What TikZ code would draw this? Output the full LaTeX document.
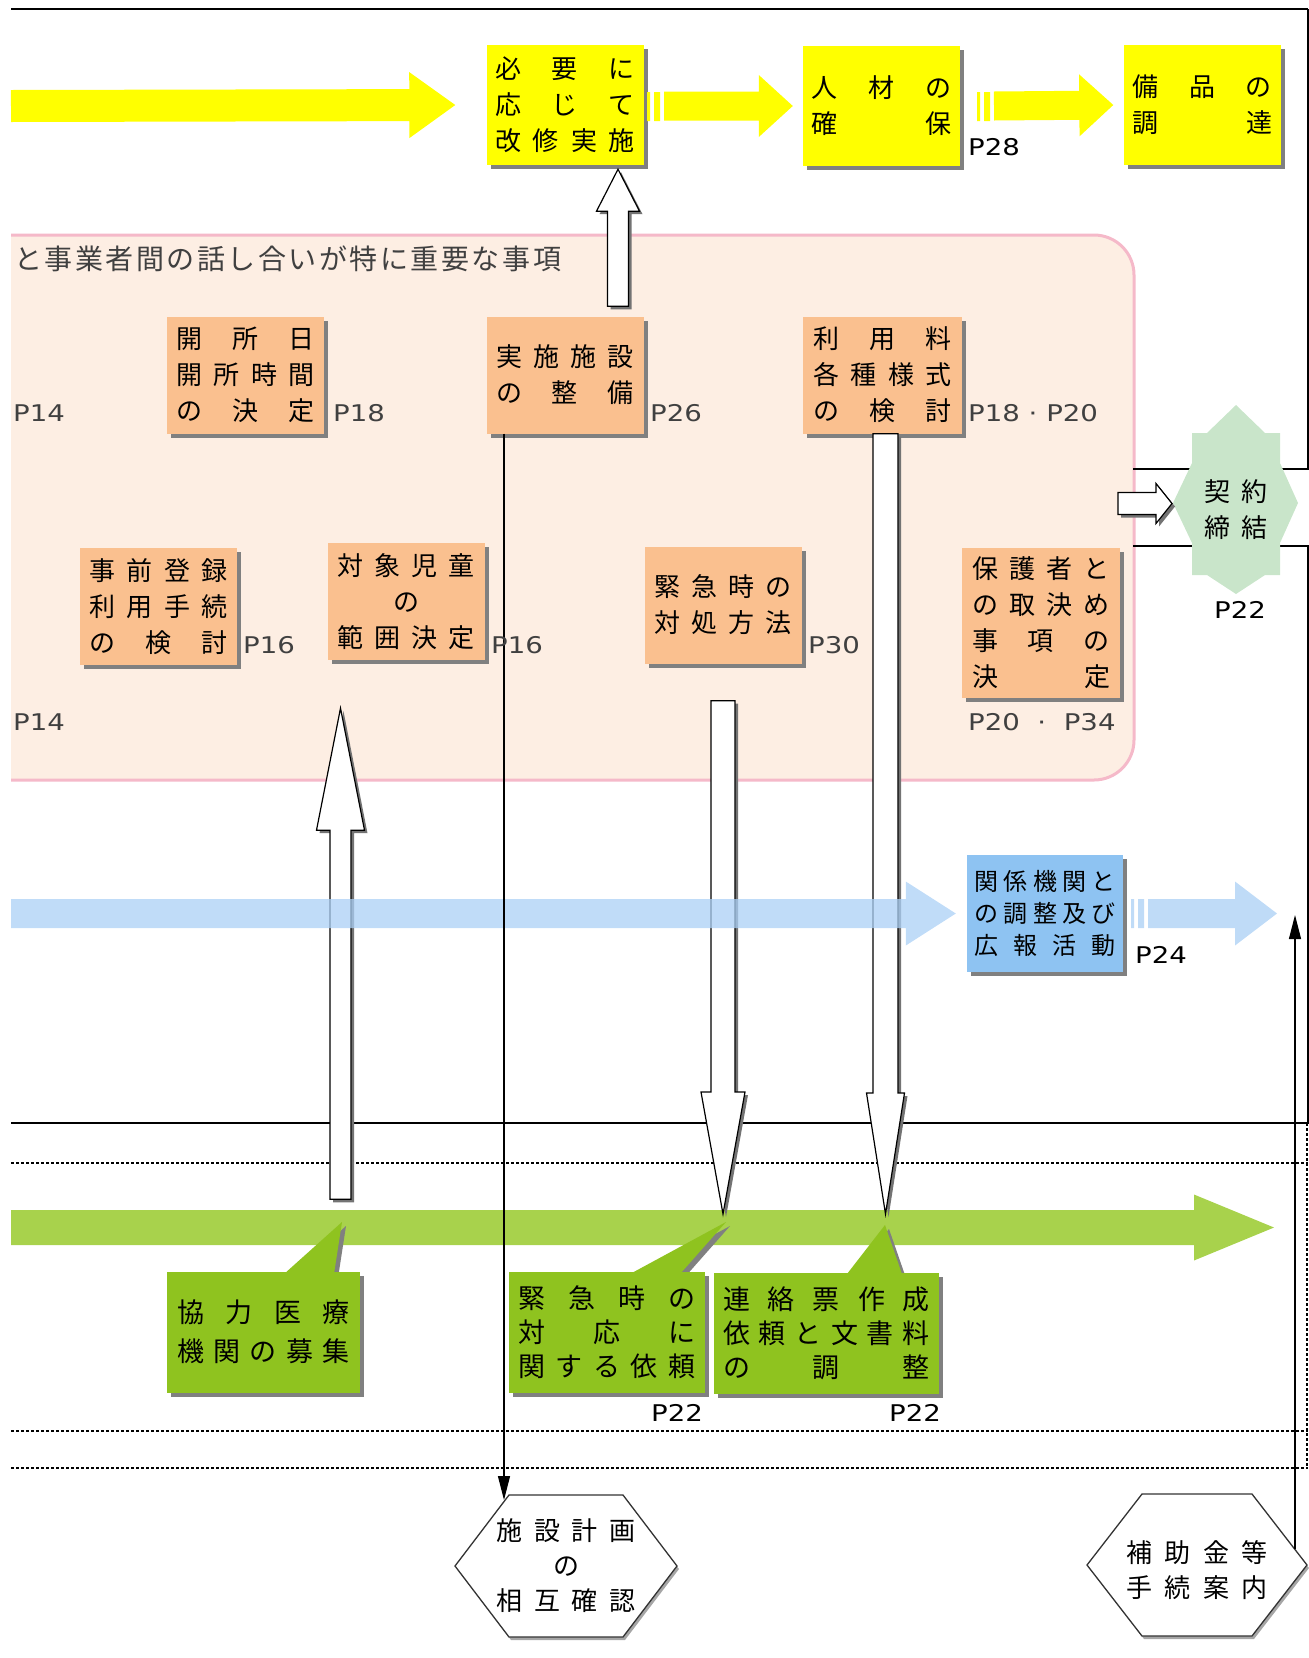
\documentclass[tikz,border=0pt]{standalone}
\usepackage{fontspec}
\newfontfamily\jfont{Noto Sans CJK JP}
\newfontfamily\jtitlefont[LetterSpace=9]{Noto Sans CJK JP}
\newfontfamily\pfont[FakeStretch=1.2]{DejaVu Sans}
\usetikzlibrary{calc,shadows,arrows.meta}

\definecolor{yarrowc}{HTML}{FFFF00}
\definecolor{oboxc}{HTML}{FAC08F}
\definecolor{pinkfill}{HTML}{FDEEE3}
\definecolor{pinkline}{HTML}{F5B9C9}
\definecolor{bbarc}{HTML}{BFDBF7}
\definecolor{bbarx}{HTML}{ABD0F6}
\definecolor{bboxc}{HTML}{8EC3F2}
\definecolor{gbarc}{HTML}{A8D24C}
\definecolor{gboxc}{HTML}{8FC31F}
\definecolor{starc}{HTML}{C9E5CA}

\newlength\rowwd
\newcommand\jr[1]{\makebox[\rowwd][s]{#1}}

% block arrow: [style]{start}{tip}{shaft half width}{head half width}{head length}
\newcommand\blockarrow[6][]{%
  \coordinate (ba-h) at ($(#3)!#6!(#2)$);
  \path[#1] ($(#2)!#4!90:(#3)$) -- ($(ba-h)!#4!90:(#3)$) -- ($(ba-h)!#5!90:(#3)$)
    -- (#3) -- ($(ba-h)!#5!-90:(#3)$) -- ($(ba-h)!#4!-90:(#3)$)
    -- ($(#2)!#4!-90:(#3)$) -- cycle;}

\tikzset{
  shbox/.style={drop shadow={shadow xshift=4pt,shadow yshift=-4pt,fill=black!50,opacity=1}},
  rowwidth/.style={execute at begin node={\setlength{\rowwd}{#1}}},
  boxbase/.style={inner sep=0pt,align=center,shbox,font=\jfont\fontsize{26}{36}\selectfont},
  ybox/.style={boxbase,fill=yarrowc,minimum width=157pt,minimum height=120pt,rowwidth=140pt},
  obox/.style={boxbase,fill=oboxc,minimum width=157pt,minimum height=117pt,rowwidth=138pt},
  bbox/.style={boxbase,fill=bboxc,minimum width=156pt,minimum height=117pt,rowwidth=142pt,
    font=\jfont\fontsize{24}{32}\selectfont},
  gbox/.style={boxbase,fill=gboxc,minimum height=121pt,font=\jfont\fontsize{27}{34}\selectfont},
  warrow/.style={fill=white,draw=black,line width=1.2pt},
  wshadow/.style={fill=black!55},
  plab/.style={anchor=west,inner sep=0pt,text=black!75,font=\pfont\fontsize{23}{28}\selectfont},
  plabk/.style={plab,text=black},
  frameline/.style={line width=1.5pt},
  dotline/.style={line width=1.6pt,dash pattern=on 2.5pt off 2.5pt},
  thinarrow/.style={line width=1.2pt,-{Triangle[length=24pt,width=12pt]}},
  hexline/.style={fill=white,draw=black!80,line width=1.3pt,
    drop shadow={shadow xshift=2pt,shadow yshift=-3pt,fill=black!35,opacity=1}},
  hextext/.style={inner sep=0pt,align=center,font=\jfont\fontsize{26}{35}\selectfont}
}

\begin{document}
\begin{tikzpicture}[x=1pt,y=-1pt]
\useasboundingbox (0,0) rectangle (1309,1658);

% pink zone
\begin{scope}
\clip (11,0) rectangle (1309,1658);
\draw[fill=pinkfill,draw=pinkline,line width=3pt,rounded corners=40pt] (-60,235) rectangle (1134,780);
\end{scope}
\node[anchor=west,inner sep=0pt,text=black!75,font=\jtitlefont\fontsize{28}{32}\selectfont] (zonetitle) at (14,259) {と事業者間の話し合いが特に重要な事項};

% frame lines
\draw[line width=2.5pt] (11,9) -- (1308,9);
\draw[frameline] (1308,9) -- (1308,469) -- (1133,469);
\draw[frameline] (1133,546) -- (1308,546) -- (1308,1123) -- (11,1123);
\draw[dotline] (11,1163) -- (1308,1163);
\draw[dotline] (11,1431) -- (1308,1431);
\draw[dotline] (11,1468) -- (1308,1468);
\draw[dotline] (1307,1123) -- (1307,1468);

% green flow
\coordinate (gb1) at (11,1227.5);
\coordinate (gb2) at (1274,1227.5);
\blockarrow[fill=gbarc]{gb1}{gb2}{17.5pt}{33pt}{80pt}
\fill[gboxc,shbox] (284,1274) -- (342,1222) -- (334,1274) -- cycle;
\fill[gboxc,shbox] (630,1274) -- (726,1222) -- (680,1274) -- cycle;
\fill[gboxc,shbox] (847,1274) -- (885,1225) -- (902,1274) -- cycle;
\node[gbox,minimum width=193pt,rowwidth=173pt,font=\jfont\fontsize{27}{39}\selectfont] (kyoryoku) at (263.5,1332)
  {\jr{協\hfill 力\hfill 医\hfill 療}\\\jr{機\hfill 関\hfill の\hfill 募\hfill 集}};
\node[gbox,minimum width=196pt,rowwidth=177pt] (irai) at (607,1332.5)
  {\jr{緊\hfill 急\hfill 時\hfill の}\\\jr{対\hfill 応\hfill に}\\\jr{関\hfill す\hfill る\hfill 依\hfill 頼}};
\node[gbox,minimum width=225pt,rowwidth=207pt] (renraku) at (826.5,1333)
  {\jr{連\hfill 絡\hfill 票\hfill 作\hfill 成}\\\jr{依\hfill 頼\hfill と\hfill 文\hfill 書\hfill 料}\\\jr{の\hfill 調\hfill 整}};

% yellow flow
\node[ybox] (kaishu) at (565,105)
  {\jr{必\hfill 要\hfill に}\\\jr{応\hfill じ\hfill て}\\\jr{改\hfill 修\hfill 実\hfill 施}};
\node[ybox] (jinzai) at (881.5,106) {\jr{人\hfill 材\hfill の}\\\jr{確\hfill 保}};
\node[ybox] (bihin) at (1202,105) {\jr{備\hfill 品\hfill の}\\\jr{調\hfill 達}};
\coordinate (ya1) at (11,106);
\coordinate (ya2) at ([xshift=-31pt]kaishu.west);
\blockarrow[fill=yarrowc]{ya1}{ya2}{16pt}{33pt}{46pt}
\fill[yarrowc] (647,92) rectangle (650,121) (654,92) rectangle (660,121);
\coordinate (yb1) at (664,106);
\coordinate (yb2) at ([xshift=-10pt]jinzai.west);
\blockarrow[fill=yarrowc]{yb1}{yb2}{14.5pt}{31pt}{34pt}
\fill[yarrowc] (977,92) rectangle (980,121) (984,92) rectangle (990,121);
\coordinate (yc1) at (994,106);
\coordinate (yc2) at ([xshift=-10pt]bihin.west);
\blockarrow[fill=yarrowc]{yc1}{yc2}{14.5pt}{31pt}{34pt}

% boxes in the zone
\node[obox] (kaisho) at (245.5,375)
  {\jr{開\hfill 所\hfill 日}\\\jr{開\hfill 所\hfill 時\hfill 間}\\\jr{の\hfill 決\hfill 定}};
\node[obox] (jisshi) at (565,375) {\jr{実\hfill 施\hfill 施\hfill 設}\\\jr{の\hfill 整\hfill 備}};
\node[obox,minimum width=159pt] (riyou) at (882.5,375)
  {\jr{利\hfill 用\hfill 料}\\\jr{各\hfill 種\hfill 様\hfill 式}\\\jr{の\hfill 検\hfill 討}};
\node[obox] (jizen) at (158.5,606.5)
  {\jr{事\hfill 前\hfill 登\hfill 録}\\\jr{利\hfill 用\hfill 手\hfill 続}\\\jr{の\hfill 検\hfill 討}};
\node[obox] (taisho) at (406,601.5)
  {\jr{対\hfill 象\hfill 児\hfill 童}\\の\\\jr{範\hfill 囲\hfill 決\hfill 定}};
\node[obox] (kinkyu) at (723,605) {\jr{緊\hfill 急\hfill 時\hfill の}\\\jr{対\hfill 処\hfill 方\hfill 法}};
\node[obox,minimum width=158pt,minimum height=150pt] (hogosha) at (1041,623)
  {\jr{保\hfill 護\hfill 者\hfill と}\\\jr{の\hfill 取\hfill 決\hfill め}\\\jr{事\hfill 項\hfill の}\\\jr{決\hfill 定}};

% contract
\coordinate (kc) at (1236,504);
\begin{scope}[shift={(kc)}]
\fill[starc] (0,-99) -- (29,-71) -- (44,-71) -- (44,-41) -- (62,-1) -- (44,39) -- (44,71) -- (29,71)
  -- (0,90) -- (-29,71) -- (-44,71) -- (-44,39) -- (-63,-1) -- (-44,-41) -- (-44,-71) -- (-29,-71) -- cycle;
\end{scope}
\node[inner sep=0pt,align=center,rowwidth=64pt,font=\jfont\fontsize{26}{36}\selectfont] (keiyaku) at ([yshift=-6pt]kc)
  {\jr{契\hfill 約}\\\jr{締\hfill 結}};

% white block arrows
\coordinate (u1s) at ([xshift=53pt,yshift=10pt]jisshi.north);
\coordinate (u1t) at ([xshift=53pt,yshift=-4pt]kaishu.south);
\coordinate (u2s) at ([xshift=77pt,yshift=72pt]kyoryoku.north);
\coordinate (u2t) at ([xshift=-65.5pt,yshift=-48pt]taisho.south);
\coordinate (d1s) at ([yshift=-37pt]kinkyu.south);
\coordinate (d1t) at (723,1214);
\coordinate (d2s) at ([xshift=3pt]riyou.south);
\coordinate (d2t) at (885.5,1214);
\coordinate (r1s) at (1118,503.5);
\coordinate (r1t) at (1172,503.5);
\begin{scope}[transform canvas={xshift=3pt,yshift=-3pt}]
\blockarrow[wshadow]{u1s}{u1t}{10.5pt}{21.5pt}{42pt}
\blockarrow[wshadow]{u2s}{u2t}{10.5pt}{24pt}{122pt}
\blockarrow[wshadow]{d1s}{d1t}{12pt}{22pt}{122pt}
\blockarrow[wshadow]{d2s}{d2t}{12.5pt}{19pt}{121pt}
\blockarrow[wshadow]{r1s}{r1t}{11pt}{20pt}{16pt}
\end{scope}
\blockarrow[warrow]{u1s}{u1t}{10.5pt}{21.5pt}{42pt}
\blockarrow[warrow]{u2s}{u2t}{10.5pt}{24pt}{122pt}
\blockarrow[warrow]{d1s}{d1t}{12pt}{22pt}{122pt}
\blockarrow[warrow]{d2s}{d2t}{12.5pt}{19pt}{121pt}
\blockarrow[warrow]{r1s}{r1t}{11pt}{20pt}{16pt}

% blue flow
\node[bbox] (kankei) at (1045,913.5)
  {\jr{関\hfill 係\hfill 機\hfill 関\hfill と}\\\jr{の\hfill 調\hfill 整\hfill 及\hfill び}\\\jr{広\hfill 報\hfill 活\hfill 動}};
\coordinate (bb1) at (11,913.5);
\coordinate (bb2) at ([xshift=-11pt]kankei.west);
\blockarrow[fill=bbarx,opacity=0.75]{bb1}{bb2}{14.5pt}{32pt}{50pt}
\fill[bbarc] (1131,899) rectangle (1134,928) (1138,899) rectangle (1144,928);
\coordinate (bc1) at (1148,913.5);
\coordinate (bc2) at (1277,913.5);
\blockarrow[fill=bbarc]{bc1}{bc2}{14.5pt}{32pt}{42pt}

% hexagons
\coordinate (hAc) at (566,1566);
\coordinate (hBc) at (1197,1565);
\begin{scope}[shift={(hAc)}]
\draw[hexline] (-111,0) -- (-57,-71) -- (57,-71) -- (111,0) -- (57,71) -- (-57,71) -- cycle;
\end{scope}
\begin{scope}[shift={(hBc)}]
\draw[hexline] (-110,0) -- (-55,-71) -- (55,-71) -- (110,0) -- (55,71) -- (-55,71) -- cycle;
\end{scope}
\node[hextext,rowwidth=139pt] (hexA) at (hAc)
  {\jr{施\hfill 設\hfill 計\hfill 画}\\の\\\jr{相\hfill 互\hfill 確\hfill 認}};
\node[hextext,rowwidth=142pt] (hexB) at ([yshift=-5pt]hBc)
  {\jr{補\hfill 助\hfill 金\hfill 等}\\\jr{手\hfill 続\hfill 案\hfill 内}};

% thin connectors
\coordinate (hexAtl) at ($(hAc)+(-62,-66)$);
\coordinate (hexBr) at ($(hBc)+(98,-16)$);
\coordinate (hojoTip) at (1295,915);
\draw[thinarrow] (jisshi.south -| hexAtl) -- (hexAtl);
\draw[thinarrow] (hexBr) -- (hojoTip);

% page labels
\node[plab] (p14a) at (13,413) {P14};
\node[plab] (p18) at (333,413) {P18};
\node[plab] (p26) at (650,413) {P26};
\node[plab] (p1820) at (968,413) {P18 · P20};
\node[plab] (p16a) at (243,645) {P16};
\node[plab] (p16b) at (491,645) {P16};
\node[plab] (p30) at (808,645) {P30};
\node[plab] (p14b) at (13,722) {P14};
\node[plab] (p2034) at (968,722) {P20 \ · \ P34};
\node[plabk] (p28) at (968,147) {P28};
\node[plabk] (p22a) at (1214,610) {P22};
\node[plabk] (p24) at (1135,955) {P24};
\node[plabk] (p22b) at (651,1413) {P22};
\node[plabk] (p22c) at (889,1413) {P22};
\end{tikzpicture}
\end{document}
